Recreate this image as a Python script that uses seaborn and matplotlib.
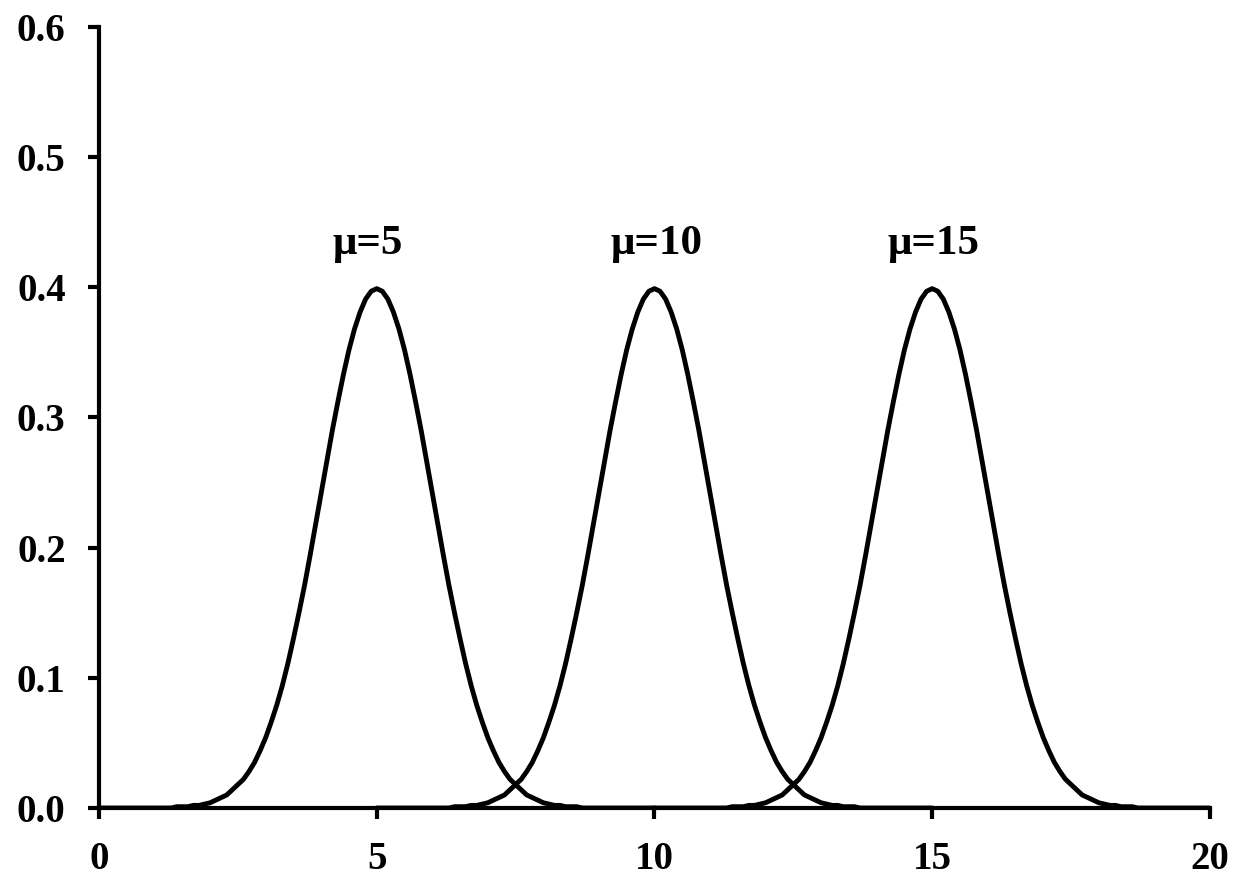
import pandas as pd
import numpy as np
import matplotlib.pyplot as plt
import seaborn as sns

# Curve heights, at distance 0, 0.1, ..., 5.0 from each peak
# (the curves are symmetric, so the left side mirrors these)
dist = [round(0.1 * i, 1) for i in range(51)]
heights = [0.399, 0.397, 0.391, 0.381, 0.368, 0.352, 0.333, 0.312, 0.290, 0.266,
           0.242, 0.218, 0.194, 0.171, 0.150, 0.130, 0.111, 0.094, 0.079, 0.066,
           0.054, 0.044, 0.035, 0.028, 0.022, 0.018, 0.014, 0.010, 0.008, 0.006,
           0.004, 0.003, 0.002, 0.002, 0.001, 0.001, 0.001, 0.000, 0.000, 0.000,
           0.000, 0.000, 0.000, 0.000, 0.000, 0.000, 0.000, 0.000, 0.000, 0.000,
           0.000]
means = [5, 10, 15]
labels = ['\u03bc=5', '\u03bc=10', '\u03bc=15']
x_ticks = [0, 5, 10, 15, 20]
y_ticks = [0.0, 0.1, 0.2, 0.3, 0.4, 0.5, 0.6]

rows = []
for m, lab in zip(means, labels):
    for d, h in zip(dist[::-1], heights[::-1]):
        rows.append({'x': m - d, 'y': h, 'curve': lab})
    for d, h in zip(dist[1:], heights[1:]):
        rows.append({'x': m + d, 'y': h, 'curve': lab})
df = pd.DataFrame(rows)

sns.set_style("ticks")
plt.rcParams['font.family'] = ['Liberation Serif', 'DejaVu Serif']
plt.rcParams['font.weight'] = 'bold'
plt.rcParams['text.color'] = 'black'
plt.rcParams['xtick.color'] = 'black'
plt.rcParams['ytick.color'] = 'black'
plt.rcParams['axes.edgecolor'] = 'black'

fig = plt.figure(figsize=(12.33, 8.77), dpi=100)
ax = fig.add_axes([0.0803, 0.0787, 0.901, 0.8905])

sns.lineplot(data=df, x='x', y='y', hue='curve', palette=['black'] * 3,
             linewidth=3.5, legend=False, sort=False, ax=ax)

# labels sit just above each peak, starting a little left of the mean
for m, lab in zip(means, labels):
    ax.text(m - 0.8, 0.433, lab, ha='left', va='center',
            fontsize=31, fontweight='bold', color='black')

ax.set_xlim(0, 20)
ax.set_ylim(0, 0.6)
ax.set_xticks(x_ticks)
ax.set_yticks(y_ticks)
ax.set_xticklabels([str(t) for t in x_ticks])
ax.set_yticklabels([f'{t:.1f}' for t in y_ticks])
ax.set_xlabel('')
ax.set_ylabel('')
ax.tick_params(axis='both', labelsize=28, width=3, length=8, direction='out',
               colors='black')
ax.tick_params(axis='y', pad=16)
ax.tick_params(axis='x', pad=16)
for lbl in ax.get_xticklabels() + ax.get_yticklabels():
    lbl.set_fontweight('bold')
sns.despine(ax=ax)
ax.spines['left'].set_linewidth(3)
ax.spines['bottom'].set_linewidth(3)
ax.margins(0)

fig.savefig('out.png', dpi=100)
